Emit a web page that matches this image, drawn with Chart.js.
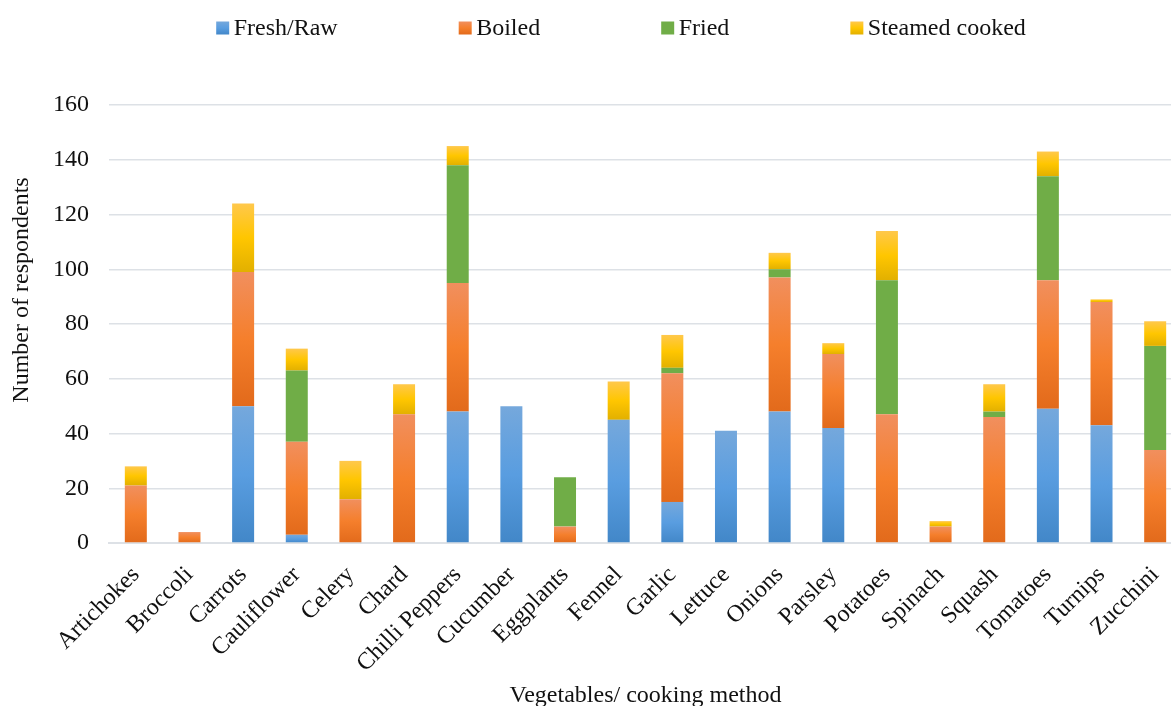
<!DOCTYPE html>
<html>
<head>
<meta charset="utf-8">
<title>Vegetables by cooking method</title>
<script src="https://cdn.jsdelivr.net/npm/chart.js@4.4.0/dist/chart.umd.min.js"></script>
<style>
  html, body { margin: 0; padding: 0; background: #fff; overflow: hidden; }
  #wrap { width: 1242px; height: 720px; }
</style>
</head>
<body>
<div id="wrap"><canvas id="myChart" width="1242" height="720"></canvas></div>
<script>
const categories = ['Artichokes', 'Broccoli', 'Carrots', 'Cauliflower', 'Celery', 'Chard', 'Chilli Peppers',
    'Cucumber', 'Eggplants', 'Fennel', 'Garlic', 'Lettuce', 'Onions', 'Parsley', 'Potatoes', 'Spinach',
    'Squash', 'Tomatoes', 'Turnips', 'Zucchini']

const freshRaw = [0, 0, 50, 3, 0, 0, 48, 50, 0, 45, 15, 41, 48, 42, 0, 0, 0, 49, 43, 0]
const boiled   = [21, 4, 49, 34, 16, 47, 47, 0, 6, 0, 47, 0, 49, 27, 47, 6, 46, 47, 45, 34]
const fried    = [0, 0, 0, 26, 0, 0, 43, 0, 18, 0, 2, 0, 3, 0, 49, 0, 2, 38, 0, 38]
const steamed  = [7, 0, 25, 8, 14, 11, 7, 0, 0, 14, 12, 0, 6, 4, 18, 2, 10, 9, 1, 9]

const seriesNames = ['Fresh/Raw', 'Boiled', 'Fried', 'Steamed cooked']
const yTicks = [0, 20, 40, 60, 80, 100, 120, 140, 160]

const allSeries = [freshRaw, boiled, fried, steamed]

// bottom, middle, top colour of each segment
const shades = [
    ['#4287c8', '#599de0', '#75a8dc'],
    ['#e26a1b', '#f57f2c', '#f18f5e'],
    ['#70ad47', '#70ad47', '#70ad47'],
    ['#e2b000', '#ffc600', '#ffc84c']
]

const serif = "'Liberation Serif', 'Times New Roman', serif"
const fontSize = 24
const textColor = '#111'
const gridColor = '#dde1e6'

// vertical gradient for each stacked segment, computed from its own start/end value
function segmentFill(k) {
    return function (ctx) {
        const chart = ctx.chart
        const y = chart.scales.y
        const stops = shades[k]
        if (!chart.chartArea || !y || ctx.dataIndex === undefined) return stops[1]
        const i = ctx.dataIndex
        let base = 0
        for (let j = 0; j < k; j++) base += allSeries[j][i]
        const bottom = y.getPixelForValue(base)
        const top = y.getPixelForValue(base + allSeries[k][i])
        if (bottom - top < 1) return stops[1]
        const g = chart.ctx.createLinearGradient(0, bottom, 0, top)
        g.addColorStop(0, stops[0])
        g.addColorStop(0.5, stops[1])
        g.addColorStop(1, stops[2])
        return g
    }
}

// legend row across the top, entries separated by a fixed gap
const topLegend = {
    id: 'topLegend',
    afterDraw(chart) {
        const ctx = chart.ctx
        const box = 13, boxGap = 4.5, gap = 121
        ctx.save()
        ctx.font = fontSize + 'px ' + serif
        const widths = seriesNames.map(n => box + boxGap + ctx.measureText(n).width)
        const total = widths.reduce((a, b) => a + b, 0) + gap * (seriesNames.length - 1)
        let x = chart.width / 2 - total / 2
        const yMid = 28
        seriesNames.forEach((name, k) => {
            const g = ctx.createLinearGradient(0, yMid + box / 2, 0, yMid - box / 2)
            g.addColorStop(0, shades[k][0])
            g.addColorStop(0.5, shades[k][1])
            g.addColorStop(1, shades[k][2])
            ctx.fillStyle = g
            ctx.fillRect(x, yMid - box / 2, box, box)
            ctx.fillStyle = textColor
            ctx.textBaseline = 'middle'
            ctx.textAlign = 'left'
            ctx.fillText(name, x + box + boxGap, yMid + 1)
            x += widths[k] + gap
        })
        ctx.restore()
    }
}

// rotated y axis title, sitting a little above the middle of the plot
const yTitle = {
    id: 'yTitle',
    afterDraw(chart) {
        const ctx = chart.ctx
        ctx.save()
        ctx.translate(22, 290)
        ctx.rotate(-Math.PI / 2)
        ctx.font = fontSize + 'px ' + serif
        ctx.fillStyle = textColor
        ctx.textAlign = 'center'
        ctx.textBaseline = 'middle'
        ctx.fillText('Number of respondents', 0, 0)
        ctx.restore()
    }
}

const ctx = document.getElementById('myChart')

new Chart(ctx, {
    type: 'bar',
    data: {
        labels: categories,
        datasets: allSeries.map((values, k) => ({
            label: seriesNames[k],
            data: values,
            backgroundColor: segmentFill(k),
            borderWidth: 0,
            barPercentage: 0.41,
            categoryPercentage: 1
        }))
    },
    options: {
        responsive: false,
        animation: false,
        devicePixelRatio: 1,
        layout: { padding: { top: 105, right: 60, left: 0, bottom: 0 } },
        plugins: {
            legend: { display: false },
            tooltip: { enabled: false }
        },
        scales: {
            x: {
                stacked: true,
                grid: { display: false },
                border: { color: gridColor, width: 2 },
                ticks: {
                    font: { family: serif, size: fontSize },
                    color: textColor,
                    minRotation: 45,
                    maxRotation: 45,
                    autoSkip: false,
                    padding: 10,
                    labelOffset: 0
                },
                title: {
                    display: true,
                    text: 'Vegetables/ cooking method',
                    font: { family: serif, size: fontSize },
                    color: textColor,
                    padding: { top: 0, bottom: 10 }
                },
                afterFit: s => { s.height = 177 }
            },
            y: {
                stacked: true,
                min: yTicks[0],
                max: yTicks[yTicks.length - 1],
                afterBuildTicks: s => { s.ticks = yTicks.map(v => ({ value: v })) },
                ticks: {
                    font: { family: serif, size: fontSize },
                    color: textColor,
                    padding: 20
                },
                grid: { color: gridColor, lineWidth: 1.5, drawTicks: false },
                border: { display: false },
                afterFit: s => { s.width = 109 }
            }
        }
    },
    plugins: [topLegend, yTitle]
})
</script>
</body>
</html>
